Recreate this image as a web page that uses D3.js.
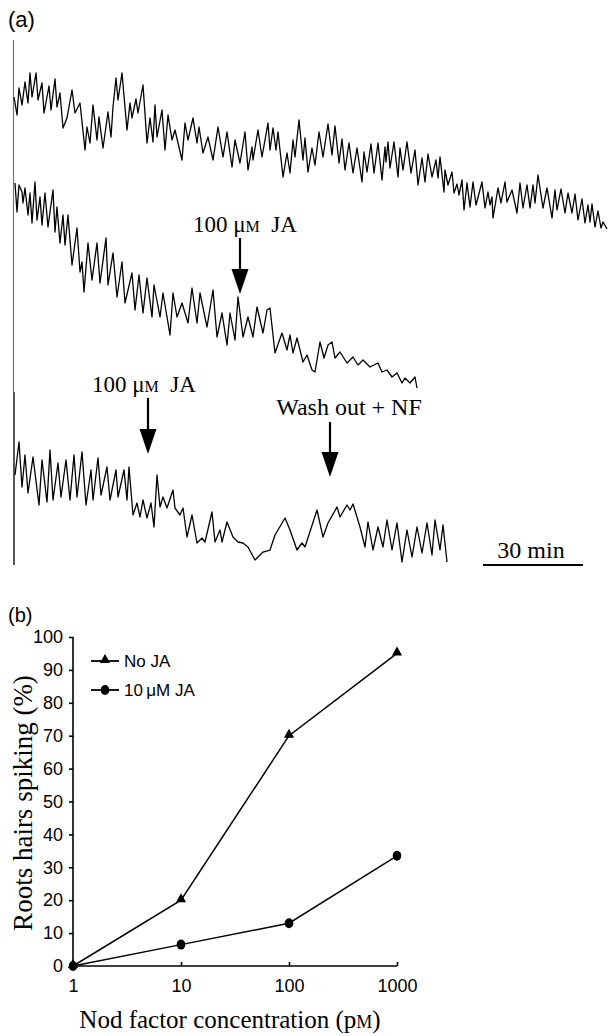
<!DOCTYPE html>
<html lang="en">
	<head>
		<meta charset="utf-8">
		<title>JA calcium spiking</title>
		<script src="https://cdn.jsdelivr.net/npm/d3@7"></script>
		<style type="text/css">
		body { margin: 0; background: #fff; }
		.trace { fill: none; stroke: #000; stroke-width: 1.3; stroke-linejoin: round; }
		.serif { font-family: "Liberation Serif", "Times New Roman", serif; }
		.sans { font-family: "Liberation Sans", Arial, sans-serif; }
		.narrow { font-family: "Liberation Sans Narrow", "Arial Narrow", "Liberation Sans", sans-serif; }
		.axis path, .axis line { stroke: #000; stroke-width: 1.6; }
		.axis text { font-family: "Liberation Sans Narrow", "Arial Narrow", "Liberation Sans", sans-serif; font-size: 18px; fill: #000; }
		</style>
	</head>
	<body>
		<script type="text/javascript">
		// panel (a): [frame (18 s), relative ratio] read at peaks and troughs
		var trace1 = [[0,143],[3,125],[5,152],[8,135],[11,158],[14,137],[16,167],[18,143],[22,167],[24,140],[28,157],[30,127],[35,154],[37,130],[41,161],[43,133],[46,147],[49,112],[53,122],[58,150],[61,127],[66,137],[71,90],[73,113],[76,97],[79,135],[83,100],[85,123],[89,92],[94,128],[97,103],[99,133],[102,162],[104,140],[108,167],[113,110],[116,137],[118,122],[122,141],[124,127],[129,155],[133,97],[136,122],[139,98],[141,135],[143,103],[148,130],[151,90],[154,125],[158,100],[161,110],[168,80],[171,117],[174,100],[179,122],[183,97],[185,113],[189,87],[194,103],[199,80],[204,113],[209,83],[213,108],[218,73],[221,100],[226,77],[231,108],[234,70],[238,93],[239,80],[244,110],[248,83],[254,117],[256,90],[259,112],[262,90],[264,108],[269,63],[273,87],[276,67],[279,100],[281,83],[285,120],[289,80],[291,102],[294,68],[298,92],[301,75],[305,108],[309,83],[314,116],[318,85],[321,114],[325,77],[328,101],[331,70],[335,97],[339,67],[343,92],[348,58],[350,88],[353,68],[357,96],[360,67],[364,97],[368,60],[371,93],[372,78],[374,98],[376,72],[380,98],[384,63],[386,92],[389,70],[393,98],[397,67],[401,90],[404,55],[408,82],[411,58],[414,86],[418,63],[422,80],[424,62],[426,83],[430,48],[431,70],[434,55],[438,68],[440,47],[443,56],[445,45],[448,60],[450,30],[453,57],[456,33],[459,58],[462,35],[468,58],[471,32],[474,48],[476,35],[478,43],[479,22],[484,52],[487,37],[491,58],[493,38],[498,50],[503,27],[506,57],[509,32],[513,55],[516,32],[519,55],[521,37],[524,65],[529,32],[533,52],[538,22],[541,50],[543,30],[547,51],[551,27],[554,47],[558,27],[561,46],[564,20],[568,41],[571,17],[574,35],[576,18],[578,36],[581,13],[584,29],[587,12],[589,18],[593,11]];
		var trace2 = [[1,217],[3,188],[5,215],[8,208],[9,197],[11,212],[14,185],[16,207],[18,177],[21,218],[23,180],[26,203],[28,175],[31,207],[34,173],[39,210],[41,168],[43,193],[46,157],[49,185],[51,155],[54,185],[58,135],[63,172],[66,128],[68,138],[70,108],[74,157],[78,120],[83,157],[86,117],[92,162],[94,115],[99,147],[103,103],[108,138],[111,97],[118,127],[121,90],[125,125],[129,87],[133,122],[138,83],[140,115],[146,83],[149,107],[156,65],[159,107],[163,83],[168,97],[174,77],[178,112],[183,77],[186,107],[193,73],[199,110],[203,63],[208,87],[213,55],[216,87],[221,60],[224,103],[229,63],[234,83],[239,63],[243,93],[249,67],[253,90],[256,92],[261,47],[268,67],[273,50],[276,65],[279,47],[283,62],[289,38],[293,45],[298,30],[301,28],[306,58],[310,42],[314,55],[318,58],[321,42],[326,48],[333,37],[339,43],[344,35],[349,40],[356,33],[364,37],[368,28],[373,30],[378,23],[383,27],[388,17],[391,22],[396,17],[401,23],[403,12]];
		var trace3 = [[1,95],[5,128],[8,83],[11,115],[14,77],[19,113],[25,65],[28,110],[33,68],[36,120],[39,70],[44,107],[47,73],[52,110],[56,70],[60,115],[63,73],[68,118],[72,65],[77,100],[79,70],[84,112],[87,75],[93,103],[96,70],[102,100],[104,73],[110,100],[113,70],[115,103],[119,55],[123,67],[126,53],[129,70],[133,52],[137,67],[140,43],[143,95],[146,63],[149,73],[153,62],[159,80],[161,62],[166,55],[169,62],[173,33],[178,55],[183,27],[188,32],[191,28],[198,58],[201,28],[206,40],[208,28],[213,48],[219,33],[224,28],[229,27],[234,23],[241,10],[246,15],[249,18],[256,20],[261,35],[271,52],[276,40],[283,20],[288,27],[291,23],[303,60],[309,33],[314,47],[323,63],[326,53],[333,65],[336,60],[339,66],[346,43],[351,23],[354,48],[359,20],[364,43],[369,23],[373,50],[378,20],[383,47],[388,8],[393,40],[398,13],[403,43],[408,17],[413,47],[418,15],[421,50],[426,20],[429,45],[433,8]];

		// annotations: frame where the arrow points
		var jaFrame2 = 226, jaFrame3 = 134, washFrame3 = 316;

		// panel (b)
		var concentrations = [1, 10, 100, 1000];
		var noJA = [0, 20, 70, 95];
		var withJA = [0, 6.5, 13, 33.5];
		var yTicks = [0, 10, 20, 30, 40, 50, 60, 70, 80, 90, 100];

		var svg = d3.select("body").append("svg")
			.attr("width", 612)
			.attr("height", 1036);

		// ---------- panel (a) ----------
		svg.append("text").attr("class", "sans")
			.attr("x", 8).attr("y", 27)
			.style("font-size", "22px")
			.text("(a)");

		var t = d3.scaleLinear().domain([0, 600]).range([14, 614]);

		// left edge lines
		svg.append("line").attr("x1", 13.5).attr("x2", 13.5).attr("y1", 40).attr("y2", 392)
			.style("stroke", "#777").style("stroke-width", 1.2);
		svg.append("line").attr("x1", 14).attr("x2", 14).attr("y1", 392).attr("y2", 565)
			.style("stroke", "#111").style("stroke-width", 1.4);

		var traces = [
			{data: trace1, base: 240},
			{data: trace2, base: 400},
			{data: trace3, base: 570}
		];
		traces.forEach(function(tr){
			var y = d3.scaleLinear().domain([0, 200]).range([tr.base, tr.base - 200]);
			svg.append("path")
				.datum(tr.data)
				.attr("class", "trace")
				.attr("d", d3.line().x(function(d){ return t(d[0]); }).y(function(d){ return y(d[1]); }));
		});

		function arrow(x, y0, y1){
			svg.append("line").attr("x1", x).attr("x2", x).attr("y1", y0).attr("y2", y1 - 22)
				.style("stroke", "#000").style("stroke-width", 2.2);
			svg.append("path")
				.attr("d", "M" + (x - 8.5) + "," + (y1 - 25) + "L" + (x + 8.5) + "," + (y1 - 25) + "L" + x + "," + y1 + "Z")
				.style("fill", "#000");
		}

		function jaLabel(x, y){
			var tx = svg.append("text").attr("class", "serif")
				.attr("x", x).attr("y", y)
				.style("font-size", "23px");
			tx.append("tspan").text("100 \u03bc");
			tx.append("tspan").style("font-size", "16px").text("M");
			tx.append("tspan").text("\u00a0\u00a0JA");
		}

		jaLabel(193, 232);
		arrow(t(jaFrame2), 238, 294);

		jaLabel(92, 392);
		arrow(t(jaFrame3), 398, 454);

		svg.append("text").attr("class", "serif")
			.attr("x", 349).attr("y", 415)
			.attr("text-anchor", "middle")
			.style("font-size", "24px")
			.text("Wash out + NF");
		arrow(t(washFrame3), 422, 477);

		// scale bar: 30 min = 100 frames
		svg.append("line")
			.attr("x1", t(469)).attr("x2", t(569))
			.attr("y1", 565).attr("y2", 565)
			.style("stroke", "#000").style("stroke-width", 2.2);
		svg.append("text").attr("class", "serif")
			.attr("x", t(517)).attr("y", 558)
			.attr("text-anchor", "middle")
			.style("font-size", "24px")
			.text("30 min");

		// ---------- panel (b) ----------
		svg.append("text").attr("class", "sans")
			.attr("x", 8).attr("y", 622)
			.style("font-size", "20px")
			.text("(b)");

		var x = d3.scaleLog().domain([1, 1000]).range([73, 397]);
		var y = d3.scaleLinear().domain([0, 100]).range([966, 637]);

		svg.append("g").attr("class", "axis")
			.attr("transform", "translate(73,0)")
			.call(d3.axisLeft(y).tickValues(yTicks).tickSize(4).tickPadding(6).tickFormat(d3.format("d")))
			.call(function(g){ g.select(".domain").attr("d", "M0," + y(100) + "V" + y(0)); });

		svg.append("g").attr("class", "axis")
			.attr("transform", "translate(0,966)")
			.call(d3.axisBottom(x).tickValues(concentrations).tickSize(-4).tickPadding(13).tickFormat(d3.format("d")))
			.call(function(g){ g.select(".domain").attr("d", "M" + x(1) + ",0H" + x(1000)); });

		var line = d3.line().x(function(d, i){ return x(concentrations[i]); }).y(function(d){ return y(d); });

		svg.append("path").datum(noJA).attr("d", line)
			.style("fill", "none").style("stroke", "#000").style("stroke-width", 1.5);
		svg.append("path").datum(withJA).attr("d", line)
			.style("fill", "none").style("stroke", "#000").style("stroke-width", 1.5);

		var tri = d3.symbol().type(d3.symbolTriangle).size(45);
		svg.selectAll(".tri").data(noJA).enter().append("path")
			.attr("d", tri)
			.attr("transform", function(d, i){ return "translate(" + x(concentrations[i]) + "," + (y(d) - 1) + ")"; });
		svg.selectAll(".dot").data(withJA).enter().append("ellipse")
			.attr("cx", function(d, i){ return x(concentrations[i]); })
			.attr("cy", function(d){ return y(d); })
			.attr("rx", 4.3).attr("ry", 5);

		// legend
		var legend = [{label: "No JA", sym: "tri"}, {label: "10\u2009\u03bcM JA", sym: "dot"}];
		var lg = svg.selectAll(".legend").data(legend).enter().append("g")
			.attr("transform", function(d, i){ return "translate(0," + (661 + i * 29) + ")"; });
		lg.append("line").attr("x1", 91).attr("x2", 119)
			.style("stroke", "#000").style("stroke-width", 1.8);
		lg.each(function(d){
			var g = d3.select(this);
			if (d.sym == "tri") g.append("path").attr("d", tri).attr("transform", "translate(105,-1)");
			else g.append("ellipse").attr("cx", 105).attr("cy", 0).attr("rx", 4.3).attr("ry", 5);
		});
		lg.append("text").attr("class", "narrow")
			.attr("x", 124).attr("dy", "0.35em")
			.style("font-size", "17px")
			.text(function(d){ return d.label; });

		// axis titles
		svg.append("text").attr("class", "serif")
			.attr("transform", "translate(32,803) rotate(-90)")
			.attr("text-anchor", "middle")
			.style("font-size", "27px")
			.text("Roots hairs spiking (%)");

		var xt = svg.append("text").attr("class", "serif")
			.attr("x", 230).attr("y", 1028)
			.attr("text-anchor", "middle")
			.style("font-size", "25px");
		xt.append("tspan").text("Nod factor concentration (p");
		xt.append("tspan").style("font-size", "18px").text("M");
		xt.append("tspan").text(")");
		</script>
	</body>
</html>
